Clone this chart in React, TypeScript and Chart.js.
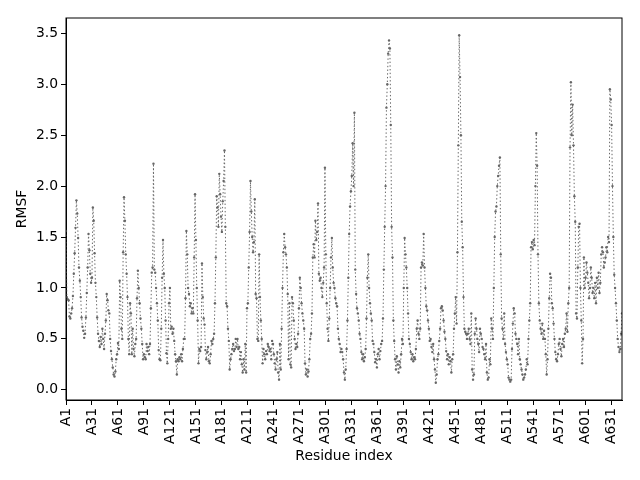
import { useEffect, useRef } from "react"
import { Chart, registerables } from "chart.js"

Chart.register(...registerables)

// RMSF per residue (643 residues, A1..A643)
const rmsf: number[] = [
    1.56, 0.91, 0.89, 0.88, 0.72, 0.70, 0.75, 0.80, 0.92, 1.14,
    1.34, 1.59, 1.86, 1.73, 1.49, 1.20, 1.07, 0.91, 0.71, 0.62,
    0.58, 0.51, 0.55, 0.71, 0.95, 1.20, 1.53, 1.37, 1.14, 1.05,
    1.10, 1.79, 1.66, 1.34, 1.05, 0.91, 0.71, 0.55, 0.48, 0.42,
    0.52, 0.45, 0.60, 0.50, 0.40, 0.55, 0.68, 0.94, 0.88, 0.78,
    0.75, 0.50, 0.38, 0.30, 0.22, 0.15, 0.13, 0.18, 0.30, 0.35,
    0.46, 0.40, 1.07, 0.91, 0.60, 0.50, 1.35, 1.89, 1.66, 1.33,
    1.14, 0.91, 0.50, 0.35, 0.85, 0.75, 0.35, 0.60, 0.40, 0.33,
    0.45, 0.50, 0.90, 1.17, 1.00, 0.85, 0.70, 0.60, 0.45, 0.30,
    0.35, 0.32, 0.30, 0.45, 0.38, 0.42, 0.35, 0.45, 0.80, 1.15,
    1.20, 2.22, 1.18, 1.15, 1.00, 0.85, 0.68, 0.39, 0.30, 0.29,
    0.60, 1.10, 1.47, 1.14, 1.00, 0.68, 0.36, 0.26, 0.50, 0.85,
    1.00, 0.60, 0.62, 0.55, 0.60, 0.48, 0.35, 0.28, 0.15, 0.30,
    0.28, 0.32, 0.30, 0.35, 0.28, 0.40, 0.50, 0.50, 0.90, 1.56,
    1.33, 1.00, 0.94, 0.82, 0.85, 0.75, 0.80, 0.75, 1.30, 1.92,
    1.47, 1.00, 0.68, 0.26, 0.40, 0.38, 0.42, 1.24, 0.91, 0.70,
    0.64, 0.39, 0.30, 0.37, 0.42, 0.28, 0.26, 0.35, 0.48, 0.45,
    0.50, 0.55, 0.85, 1.30, 1.90, 1.79, 1.60, 2.12, 1.92, 1.70,
    1.55, 1.85, 2.05, 2.35, 1.60, 0.85, 0.82, 0.60, 0.48, 0.20,
    0.30, 0.35, 0.40, 0.45, 0.38, 0.40, 0.50, 0.42, 0.50, 0.40,
    0.42, 0.30, 0.37, 0.25, 0.17, 0.30, 0.20, 0.45, 0.17, 0.80,
    0.85, 1.20, 1.55, 2.05, 1.75, 1.50, 1.35, 1.45, 1.87, 0.94,
    0.90, 0.50, 0.48, 1.33, 0.91, 0.68, 0.50, 0.26, 0.40, 0.35,
    0.30, 0.38, 0.35, 0.45, 0.42, 0.38, 0.40, 0.30, 0.48, 0.45,
    0.35, 0.26, 0.20, 0.30, 0.37, 0.17, 0.10, 0.45, 0.20, 0.60,
    1.00, 1.35, 1.53, 1.40, 1.33, 1.20, 0.94, 0.30, 0.85, 0.25,
    0.22, 0.91, 0.85, 0.68, 0.50, 0.40, 0.45, 0.42, 0.55, 0.80,
    1.10, 1.00, 0.85, 0.75, 0.68, 0.60, 0.26, 0.15, 0.20, 0.13,
    0.18, 0.30, 0.50, 0.55, 0.75, 1.30, 1.43, 1.30, 1.66, 1.47,
    1.55, 1.83, 1.14, 1.07, 1.10, 1.00, 0.91, 1.05, 1.20, 2.18,
    1.33, 0.85, 0.60, 0.48, 0.70, 1.00, 1.30, 1.49, 1.20, 1.05,
    1.00, 0.90, 0.85, 0.82, 0.60, 0.50, 0.45, 0.37, 0.40, 0.37,
    0.30, 0.17, 0.10, 0.20, 0.40, 0.68, 1.10, 1.53, 1.80, 1.95,
    2.10, 2.42, 2.00, 2.72, 1.18, 0.94, 0.80, 0.75, 0.68, 0.55,
    0.50, 0.37, 0.30, 0.35, 0.28, 0.32, 0.40, 0.70, 1.10, 1.33,
    1.00, 0.85, 0.75, 0.68, 0.48, 0.45, 0.37, 0.27, 0.30, 0.22,
    0.35, 0.40, 0.30, 0.38, 0.45, 0.48, 0.70, 1.18, 1.60, 2.00,
    2.77, 3.00, 3.30, 3.43, 3.35, 2.60, 1.60, 1.30, 0.68, 0.48,
    0.30, 0.20, 0.33, 0.25, 0.17, 0.28, 0.22, 0.35, 0.50, 0.45,
    1.00, 1.49, 1.33, 1.20, 1.00, 0.75, 0.50, 0.45, 0.37, 0.30,
    0.35, 0.28, 0.32, 0.30, 0.40, 0.60, 0.68, 0.55, 0.50, 0.60,
    1.20, 1.25, 1.22, 1.53, 1.20, 1.00, 0.82, 0.78, 0.68, 0.60,
    0.48, 0.50, 0.42, 0.37, 0.45, 0.30, 0.20, 0.07, 0.15, 0.30,
    0.35, 0.48, 0.60, 0.80, 0.82, 0.78, 0.68, 0.57, 0.50, 0.38,
    0.30, 0.35, 0.25, 0.32, 0.28, 0.17, 0.30, 0.35, 0.60, 0.75,
    0.91, 0.65, 1.35, 2.40, 3.48, 3.07, 2.50, 1.65, 1.40, 0.91,
    0.60, 0.57, 0.55, 0.50, 0.55, 0.60, 0.50, 0.45, 0.75, 0.20,
    0.10, 0.15, 0.55, 0.70, 0.60, 0.50, 0.45, 0.37, 0.60, 0.55,
    0.50, 0.42, 0.40, 0.35, 0.30, 0.45, 0.17, 0.10, 0.12, 0.30,
    0.25, 0.70, 0.60, 0.50, 1.00, 1.50, 1.75, 1.80, 2.00, 2.10,
    2.20, 2.28, 1.33, 0.70, 0.60, 0.50, 0.75, 0.45, 0.37, 0.30,
    0.25, 0.12, 0.10, 0.08, 0.10, 0.40, 0.65, 0.80, 0.75, 0.55,
    0.50, 0.45, 0.35, 0.50, 0.30, 0.25, 0.20, 0.15, 0.10, 0.12,
    0.15, 0.20, 0.30, 0.25, 0.50, 0.68, 0.85, 1.40, 1.45, 1.38,
    1.47, 1.42, 2.00, 2.52, 2.20, 1.33, 0.85, 0.68, 0.60, 0.55,
    0.65, 0.50, 0.58, 0.50, 0.35, 0.15, 0.30, 0.60, 0.90, 1.14,
    1.10, 0.85, 0.80, 0.65, 0.50, 0.37, 0.30, 0.28, 0.35, 0.45,
    0.50, 0.40, 0.33, 0.45, 0.50, 0.42, 0.55, 0.60, 0.75, 0.57,
    0.85, 1.00, 2.38, 3.02, 2.50, 2.80, 2.40, 1.90, 1.65, 0.75,
    0.70, 1.20, 1.60, 1.63, 1.00, 0.68, 0.26, 0.50, 1.30, 1.00,
    1.10, 1.25, 1.15, 1.05, 0.90, 1.00, 1.20, 1.10, 0.95, 1.00,
    0.90, 1.05, 0.85, 1.10, 1.00, 1.15, 0.95, 1.05, 1.33, 1.40,
    1.35, 1.20, 1.25, 1.30, 1.40, 1.35, 1.50, 1.45, 2.95, 2.85,
    2.60, 2.00, 1.50, 1.13, 1.00, 0.85, 0.68, 0.50, 0.42, 0.37,
    0.40, 0.55, 0.75,
]

// residue labels, one per value
const residues: string[] = rmsf.map((_, i) => "A" + (i + 1))

const FONT = "'DejaVu Sans', sans-serif"
const LINE_COLOR = "#666666"

// draws the top and right spines like matplotlib's axes box
const frame = {
    id: "frame",
    afterDraw(chart: Chart) {
        const { ctx, chartArea } = chart
        ctx.save()
        ctx.strokeStyle = "#000"
        ctx.lineWidth = 1
        ctx.strokeRect(chartArea.left, chartArea.top, chartArea.right - chartArea.left, chartArea.bottom - chartArea.top)
        ctx.restore()
    },
}

export default function App() {
    const chartRef = useRef<HTMLCanvasElement>(null)
    const chartInstance = useRef<Chart | null>(null)

    useEffect(() => {
        if (!chartRef.current) return
        if (chartInstance.current) chartInstance.current.destroy()

        const ctx = chartRef.current.getContext("2d")
        if (!ctx) return

        chartInstance.current = new Chart(ctx, {
            type: "line",
            data: {
                datasets: [
                    {
                        label: "RMSF",
                        data: rmsf.map((v, i) => ({ x: i, y: v })),
                        borderColor: LINE_COLOR,
                        borderWidth: 1,
                        borderDash: [1.4, 2.3],
                        pointRadius: 1.2,
                        pointBackgroundColor: LINE_COLOR,
                        pointBorderWidth: 0,
                        tension: 0,
                    },
                ],
            },
            options: {
                responsive: false,
                animation: false,
                devicePixelRatio: 1,
                layout: { padding: { top: 18, right: 18, left: 0, bottom: 0 } },
                plugins: {
                    legend: { display: false },
                    tooltip: { enabled: false },
                },
                scales: {
                    x: {
                        type: "linear",
                        min: 0,
                        max: rmsf.length - 1,
                        afterFit: (scale) => {
                            scale.height = 80
                        },
                        grid: { drawOnChartArea: false, color: "#000", tickLength: 5 },
                        border: { display: true, color: "#000", width: 1 },
                        ticks: {
                            stepSize: 30,
                            includeBounds: false,
                            autoSkip: false,
                            minRotation: 90,
                            maxRotation: 90,
                            padding: 3,
                            color: "#000",
                            font: { family: FONT, size: 13.9 },
                            callback: (v) => residues[Number(v)] ?? "",
                        },
                        title: {
                            display: true,
                            text: "Residue index",
                            color: "#000",
                            font: { family: FONT, size: 13.9 },
                            padding: { top: 0, bottom: 15 },
                        },
                    },
                    y: {
                        min: -0.1,
                        max: 3.65,
                        afterFit: (scale) => {
                            scale.width = 66
                        },
                        grid: { drawOnChartArea: false, color: "#000", tickLength: 5 },
                        border: { display: true, color: "#000", width: 1 },
                        ticks: {
                            stepSize: 0.5,
                            includeBounds: false,
                            padding: 3,
                            color: "#000",
                            font: { family: FONT, size: 13.9 },
                            callback: (v) => Number(v).toFixed(1),
                        },
                        title: {
                            display: true,
                            text: "RMSF",
                            color: "#000",
                            font: { family: FONT, size: 13.9 },
                            padding: { top: 14, bottom: 0 },
                        },
                    },
                },
            },
            plugins: [frame],
        })

        return () => {
            if (chartInstance.current) {
                chartInstance.current.destroy()
                chartInstance.current = null
            }
        }
    }, [])

    return (
        <div style={{ position: "absolute", left: 0, top: 0, width: 640, height: 480, background: "#fff" }}>
            <canvas ref={chartRef} width={640} height={480} style={{ display: "block" }} />
        </div>
    )
}
